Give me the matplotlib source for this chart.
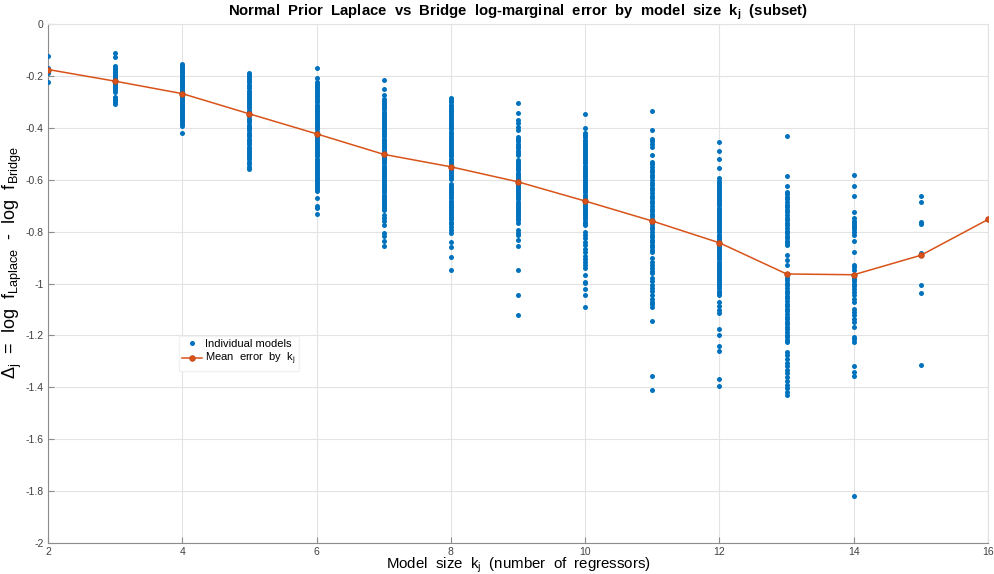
import matplotlib.pyplot as plt
from matplotlib.lines import Line2D

plt.rcParams['font.family'] = ['Liberation Sans', 'DejaVu Sans']
plt.rcParams['mathtext.default'] = 'regular'

# model sizes and the per-model errors
sizes = [2, 3, 4, 5, 6, 7, 8, 9, 10, 11, 12, 13, 14, 15, 16]

k2 = [-0.123, -0.170, -0.176, -0.182, -0.188, -0.225]
k3 = [-0.113, -0.126, -0.162, -0.168, -0.173, -0.179, -0.185, -0.190, -0.196, -0.202,
      -0.208, -0.213, -0.219, -0.225, -0.231, -0.236, -0.242, -0.248, -0.254, -0.261,
      -0.280, -0.287, -0.293, -0.299, -0.309]
k4 = [-0.154, -0.160, -0.166, -0.172, -0.178, -0.184, -0.190, -0.196, -0.202, -0.208,
      -0.214, -0.220, -0.226, -0.232, -0.238, -0.244, -0.250, -0.256, -0.262, -0.268,
      -0.274, -0.280, -0.286, -0.292, -0.298, -0.304, -0.310, -0.316, -0.322, -0.328,
      -0.334, -0.340, -0.346, -0.352, -0.358, -0.364, -0.370, -0.376, -0.385, -0.393,
      -0.419]
k5 = [-0.190, -0.196, -0.203, -0.210, -0.218, -0.225, -0.233, -0.240, -0.248, -0.256,
      -0.263, -0.271, -0.279, -0.286, -0.294, -0.302, -0.309, -0.317, -0.325, -0.333,
      -0.340, -0.348, -0.356, -0.364, -0.371, -0.379, -0.387, -0.395, -0.402, -0.410,
      -0.418, -0.426, -0.433, -0.441, -0.449, -0.457, -0.464, -0.472, -0.480, -0.488,
      -0.496, -0.503, -0.511, -0.518, -0.533, -0.540, -0.550, -0.560]
k6 = [-0.168, -0.207, -0.222, -0.230, -0.238, -0.246, -0.254, -0.262, -0.270, -0.278,
      -0.286, -0.294, -0.302, -0.310, -0.318, -0.326, -0.334, -0.342, -0.350, -0.358,
      -0.366, -0.374, -0.382, -0.390, -0.398, -0.406, -0.414, -0.422, -0.430, -0.438,
      -0.446, -0.454, -0.462, -0.470, -0.478, -0.486, -0.494, -0.502, -0.510, -0.518,
      -0.526, -0.534, -0.542, -0.550, -0.558, -0.566, -0.574, -0.582, -0.590, -0.598,
      -0.606, -0.613, -0.620, -0.627, -0.635, -0.644, -0.669, -0.700, -0.710, -0.730]
k7 = [-0.216, -0.250, -0.274, -0.289, -0.297, -0.305, -0.313, -0.321, -0.329, -0.337,
      -0.345, -0.353, -0.361, -0.369, -0.377, -0.385, -0.393, -0.401, -0.409, -0.417,
      -0.425, -0.433, -0.441, -0.449, -0.457, -0.465, -0.473, -0.481, -0.489, -0.497,
      -0.505, -0.513, -0.521, -0.529, -0.537, -0.545, -0.553, -0.561, -0.569, -0.577,
      -0.585, -0.593, -0.601, -0.609, -0.617, -0.625, -0.633, -0.641, -0.649, -0.657,
      -0.665, -0.673, -0.681, -0.689, -0.697, -0.705, -0.711, -0.717, -0.736, -0.748,
      -0.760, -0.775, -0.807, -0.818, -0.835, -0.855]
k8 = [-0.286, -0.294, -0.302, -0.310, -0.318, -0.326, -0.334, -0.342, -0.350, -0.358,
      -0.366, -0.374, -0.382, -0.390, -0.398, -0.406, -0.414, -0.422, -0.430, -0.438,
      -0.446, -0.454, -0.462, -0.470, -0.478, -0.486, -0.494, -0.502, -0.510, -0.518,
      -0.526, -0.534, -0.542, -0.550, -0.558, -0.566, -0.574, -0.582, -0.590, -0.598,
      -0.616, -0.624, -0.632, -0.640, -0.648, -0.656, -0.664, -0.672, -0.680, -0.688,
      -0.696, -0.704, -0.712, -0.720, -0.728, -0.736, -0.744, -0.752, -0.762, -0.772,
      -0.782, -0.795, -0.807, -0.839, -0.858, -0.897, -0.948]
k9 = [-0.306, -0.344, -0.370, -0.383, -0.395, -0.408, -0.434, -0.443, -0.452, -0.461,
      -0.470, -0.479, -0.488, -0.497, -0.505, -0.524, -0.532, -0.540, -0.548, -0.556,
      -0.564, -0.572, -0.580, -0.588, -0.596, -0.604, -0.612, -0.620, -0.628, -0.636,
      -0.644, -0.652, -0.660, -0.668, -0.676, -0.684, -0.692, -0.700, -0.708, -0.716,
      -0.724, -0.732, -0.740, -0.748, -0.756, -0.768, -0.794, -0.804, -0.813, -0.832,
      -0.854, -0.948, -1.044, -1.121]
k10 = [-0.347, -0.402, -0.421, -0.429, -0.437, -0.445, -0.453, -0.461, -0.469, -0.477,
       -0.485, -0.493, -0.501, -0.509, -0.517, -0.525, -0.531, -0.537, -0.545, -0.553,
       -0.561, -0.569, -0.577, -0.585, -0.593, -0.601, -0.609, -0.617, -0.625, -0.633,
       -0.641, -0.649, -0.657, -0.665, -0.673, -0.681, -0.689, -0.697, -0.705, -0.713,
       -0.721, -0.729, -0.737, -0.745, -0.753, -0.761, -0.768, -0.775, -0.800, -0.812,
       -0.826, -0.840, -0.852, -0.865, -0.880, -0.893, -0.906, -0.918, -0.930, -0.941,
       -0.967, -0.993, -0.999, -1.021, -1.044, -1.089]
k11 = [-0.334, -0.408, -0.441, -0.452, -0.462, -0.473, -0.505, -0.531, -0.541, -0.551,
       -0.561, -0.571, -0.581, -0.591, -0.601, -0.611, -0.621, -0.631, -0.641, -0.651,
       -0.661, -0.671, -0.681, -0.691, -0.701, -0.711, -0.721, -0.731, -0.741, -0.751,
       -0.761, -0.771, -0.781, -0.791, -0.801, -0.811, -0.821, -0.831, -0.841, -0.851,
       -0.861, -0.870, -0.877, -0.903, -0.915, -0.928, -0.940, -0.952, -0.961, -0.980,
       -0.992, -1.004, -1.018, -1.030, -1.045, -1.058, -1.070, -1.080, -1.089, -1.143,
       -1.356, -1.410]
k12 = [-0.456, -0.489, -0.520, -0.554, -0.595, -0.603, -0.611, -0.619, -0.627, -0.635,
       -0.643, -0.651, -0.659, -0.667, -0.675, -0.683, -0.691, -0.699, -0.707, -0.715,
       -0.723, -0.731, -0.739, -0.747, -0.755, -0.763, -0.771, -0.779, -0.787, -0.795,
       -0.803, -0.811, -0.819, -0.827, -0.835, -0.843, -0.851, -0.859, -0.867, -0.875,
       -0.883, -0.891, -0.899, -0.907, -0.915, -0.923, -0.931, -0.939, -0.947, -0.955,
       -0.963, -0.971, -0.979, -0.987, -0.995, -1.003, -1.011, -1.019, -1.027, -1.035,
       -1.044, -1.070, -1.085, -1.100, -1.115, -1.175, -1.198, -1.240, -1.260, -1.369,
       -1.394]
k13 = [-0.432, -0.586, -0.623, -0.646, -0.656, -0.666, -0.676, -0.686, -0.696, -0.706,
       -0.716, -0.726, -0.736, -0.746, -0.756, -0.766, -0.776, -0.786, -0.796, -0.806,
       -0.816, -0.826, -0.836, -0.845, -0.852, -0.890, -0.910, -0.929, -0.967, -0.977,
       -0.987, -0.997, -1.007, -1.017, -1.027, -1.037, -1.047, -1.057, -1.067, -1.077,
       -1.087, -1.097, -1.107, -1.117, -1.127, -1.137, -1.147, -1.157, -1.167, -1.177,
       -1.187, -1.197, -1.207, -1.216, -1.224, -1.263, -1.276, -1.290, -1.305, -1.318,
       -1.332, -1.346, -1.360, -1.375, -1.390, -1.403, -1.417, -1.430]
k14 = [-0.582, -0.623, -0.663, -0.726, -0.749, -0.757, -0.765, -0.773, -0.781, -0.790,
       -0.800, -0.813, -0.835, -0.877, -0.929, -0.938, -0.948, -0.967, -0.975, -0.983,
       -0.992, -1.000, -1.010, -1.020, -1.032, -1.045, -1.058, -1.070, -1.099, -1.110,
       -1.122, -1.135, -1.150, -1.166, -1.205, -1.215, -1.224, -1.317, -1.342, -1.356,
       -1.819]
k15 = [-0.661, -0.685, -0.764, -0.771, -0.884, -1.007, -1.038, -1.313]
k16 = [-0.753]

errors = [k2, k3, k4, k5, k6, k7, k8, k9, k10, k11, k12, k13, k14, k15, k16]

mean_err = [-0.175, -0.220, -0.268, -0.346, -0.423, -0.502, -0.550, -0.608, -0.682,
            -0.759, -0.843, -0.963, -0.966, -0.891, -0.753]

blue = '#0072BD'
orange = '#D95319'

fig = plt.figure(figsize=(9.94, 5.74), dpi=100)
ax = fig.add_axes([0.0483, 0.054, 0.9457, 0.904])

for k, vals in zip(sizes, errors):
    ax.plot([k] * len(vals), vals, 'o', color=blue, ms=3.6, mew=0, zorder=3)

ax.plot(sizes, mean_err, '-o', color=orange, lw=1.1, ms=4, mfc=orange,
        mec='#C0461A', mew=0.6, zorder=4)

ax.set_xlim(2, 16)
ax.set_ylim(-2, 0)
ax.set_xticks(range(2, 17, 2))
ax.set_yticks([-2, -1.8, -1.6, -1.4, -1.2, -1, -0.8, -0.6, -0.4, -0.2, 0])
ax.set_yticklabels(['-2', '-1.8', '-1.6', '-1.4', '-1.2', '-1', '-0.8', '-0.6',
                    '-0.4', '-0.2', '0'])

ax.grid(True, color='#e3e3e3', lw=0.8)
ax.set_axisbelow(True)
for side in ['top', 'right']:
    ax.spines[side].set_color('#e3e3e3')
    ax.spines[side].set_linewidth(0.8)
for side in ['left', 'bottom']:
    ax.spines[side].set_color('#8c8c8c')
    ax.spines[side].set_linewidth(0.8)
ax.tick_params(direction='in', length=4, width=0.8, color='#8c8c8c',
               labelsize=7.5, labelcolor='#404040', pad=3)

ax.set_title('Normal  Prior  Laplace  vs  Bridge  log-marginal  error  by  model  size  k$_j$  (subset)',
             fontsize=10.7, fontweight='bold', pad=6)
ax.set_xlabel('Model  size  k$_j$  (number  of  regressors)', fontsize=10.8, labelpad=-1)
ax.set_ylabel(r'$\Delta_j$  =  log  f$_{Laplace}$  -  log  f$_{Bridge}$', fontsize=13,
              labelpad=2)
ax.yaxis.set_label_coords(-0.026, 0.54)

handles = [Line2D([], [], ls='none', marker='o', color=blue, ms=3.6, mew=0),
           Line2D([], [], color=orange, lw=1.1, marker='o', ms=4, mfc=orange,
                  mec='#C0461A', mew=0.6)]
ax.legend(handles, ['Individual models', 'Mean  error  by  k$_j$'],
          loc='upper left', bbox_to_anchor=(0.133, 0.41), fontsize=8,
          frameon=True, framealpha=1, edgecolor='#f2f2f2', fancybox=False,
          handlelength=1.8, handletextpad=0.3, borderpad=0.3, labelspacing=0.15)

fig.savefig('out.png', dpi=100)
